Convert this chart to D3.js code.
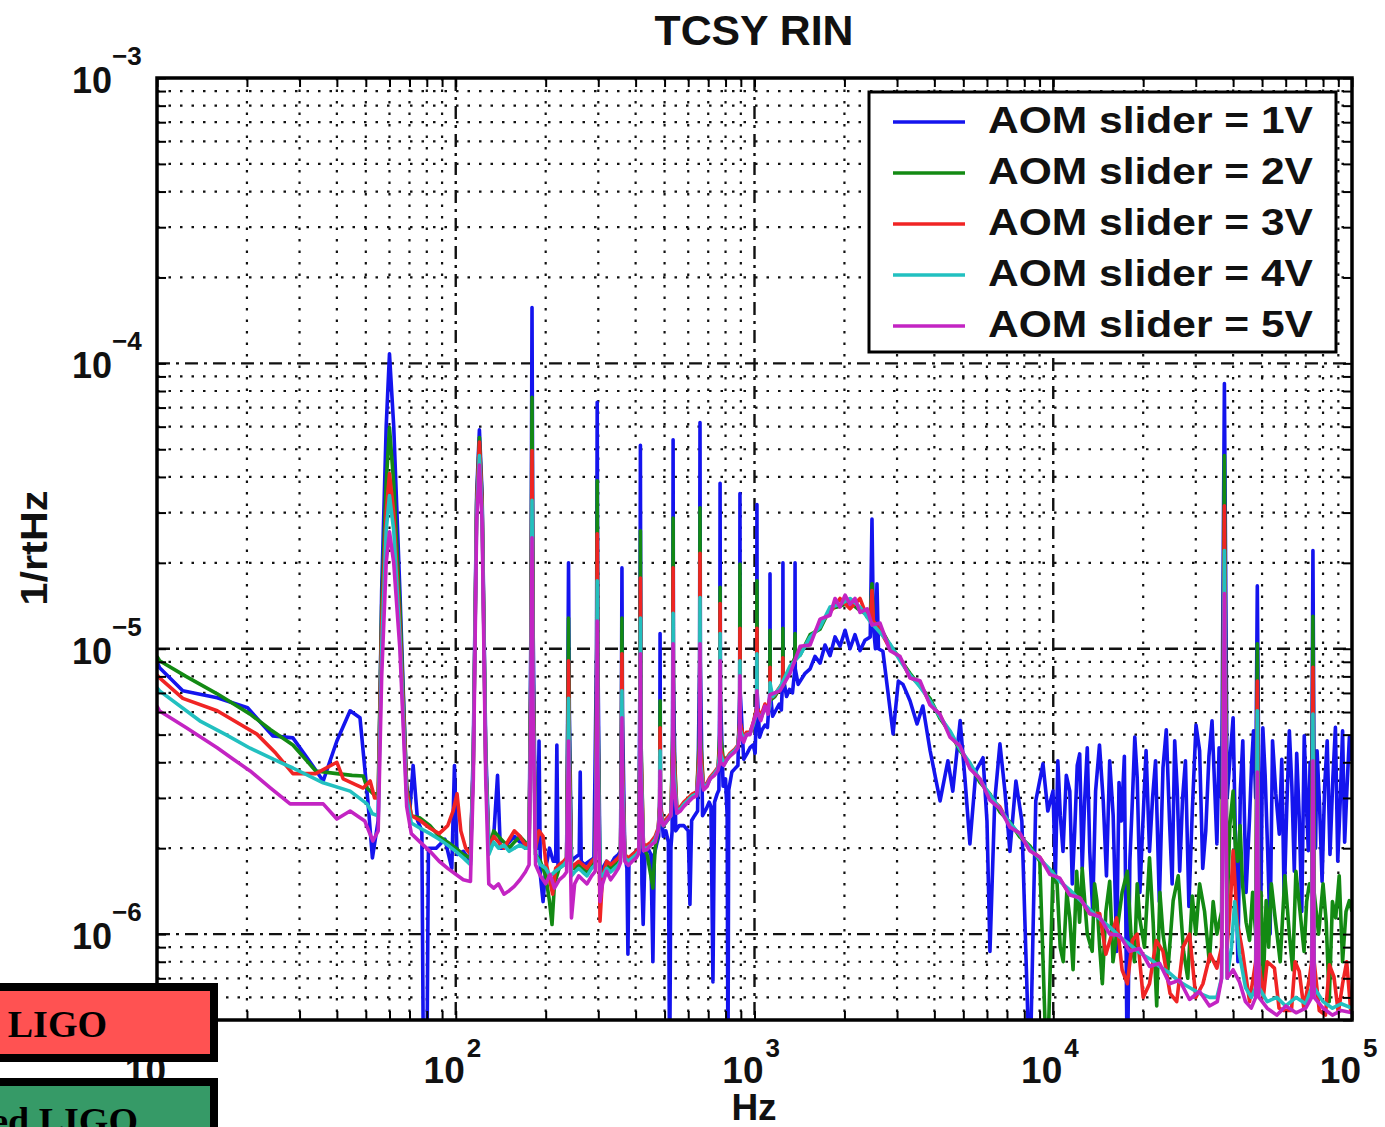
<!DOCTYPE html>
<html>
<head>
<meta charset="utf-8">
<script src="https://d3js.org/d3.v7.min.js"></script>
<style>
  html, body { margin: 0; background: #fff; }
  svg { display: block; }
</style>
</head>
<body>
<svg id="chart" width="1385" height="1127"></svg>
<script>
// values are [Hz, amplitude in units of 1e-6 /rtHz]
const UNIT = 1e-6;

const SERIES = ['AOM slider = 1V', 'AOM slider = 2V', 'AOM slider = 3V', 'AOM slider = 4V', 'AOM slider = 5V'];
const COLORS = ['#1414ee', '#138a13', '#f02424', '#22c0c0', '#c324c3'];

const X_TICKS = [10, 100, 1e3, 1e4, 1e5];
const X_EXP = ['1', '2', '3', '4', '5'];
const Y_TICKS = [1e-3, 1e-4, 1e-5, 1e-6];
const Y_EXP = ['\u22123', '\u22124', '\u22125', '\u22126'];

const blue = [
[10,9.0],[10.2,8.58],[12.2,7.12],[15.9,6.73],[20.1,6.21],[24.4,4.95],[28.5,4.87],[31.8,4.15],[36,3.44],[40,4.75],[44.3,6.06],[47.8,5.73],[50.8,2.93],[52.6,1.85],
[55,2.5],[56.5,16],[58.5,60],[60,108],[62,60],[65,16],[68.5,3.2],
[70,2.6],[72,3.9],[74.5,2.5],[77,2.3],[78,0.3],[80,0.3],[81,2.0],[86,2.0],[92,2.15],[97,1.7],[99,3.9],[101,1.9],[106,1.95],[112,1.8],
[114.5,4.5],[117.5,35],[120,58.5],[122.5,35],[126,4.5],[129,2.1],
[134,2.2],[138,3.6],[141,2.0],[145,2.0],[151,2.1],[157,2.2],[164,2.1],[171,2.0],[176,2.05],
[178.5,12],[180,157],[181.5,12],[185,2.0],
[188,2.0],[190,4.75],[192,1.6],[196,1.3],[200,1.7],[206,2.0],[212,1.8],[216,1.8],[218,4.6],[220,1.7],[226,1.75],[232,1.8],[235,1.85],
[237,6],[238.5,20],[240,6],[244,1.8],[250,1.85],[259,1.9],[261,3.7],[263,1.8],[270,1.75],[280,1.8],[290,1.85],
[296,10],[297.5,73],[299,10],[304,1.6],[310,1.7],[320,1.8],[330,1.75],[340,1.85],[350,1.9],[356,1.95],
[358.5,6],[360,19.2],[361.5,6],[368,1.9],[374,1.7],[377,0.85],[380,1.8],[390,1.9],[402,1.95],[410,2.0],
[413.5,8],[415,51.6],[416.5,8],[420,1.5],[424,1.08],[430,1.9],[440,2.0],[450,1.9],[457,0.8],[462,1.9],[472,2.1],[478,2.2],
[481.5,3],[483,11.3],[484.5,3],[495,2.2],[505,2.3],[515,2.1],[520,0.3],[525,2.0],[530,2.3],
[532.5,8],[534,54],[535.5,8],[545,2.3],[560,2.4],[580,2.4],[600,2.3],[608,1.27],[616,2.5],[630,2.6],[645,2.7],
[655,9],[657,62],[659,9],[670,2.6],[690,2.75],[705,2.9],[715,2.8],[726,0.68],[735,2.9],[750,3.1],[760,3.2],
[765,7],[767,38],[769,7],[785,3.3],[800,3.5],[810,2.6],[815,0.3],[820,3.2],[840,3.7],[860,3.8],[880,3.9],
[892,7],[894,35],[896,7],[920,4.1],[945,4.3],[966,4.5],[990,4.6],[1005,4.3],
[1017,7],[1019,32],[1021,7],[1040,4.9],[1060,5.2],[1084,5.4],[1105,5.3],
[1125,7],[1127,18.3],[1129,7],[1150,5.8],[1180,6.1],[1210,6.4],[1230,6.1],
[1243,8],[1245,20],[1247,8],[1280,6.8],[1310,7.2],[1340,7.0],
[1365,8.5],[1367,20],[1369,8.5],[1400,7.5],
[1477,8.2],[1535,8.5],[1594,9.4],[1657,8.9],[1722,10.3],[1790,9.45],[1860,11.0],[1933,10.2],[2010,11.6],[2088,10.0],[2170,11.2],[2255,9.84],[2343,10.7],
[2440,11],[2473,28.5],[2500,12],[2540,10],[2570,16.9],[2600,10],
[2690,9.8],[2910,5.03],[3030,7.7],[3140,7.5],[3315,6.57],[3500,5.45],[3660,6.3],[3870,4.4],[4180,2.93],[4440,4.05],[4610,3.17],[4880,5.6],[5070,3.44],[5260,2.07],[5510,3.73],[5820,4.15],[6000,2.49],[6140,0.87],[6370,2.93],[6630,4.64],[6890,3.17],[7160,1.95],[7500,3.44],[7850,2.49],[8350,0.3],[8740,2.93],[9240,3.95],[9590,2.7],
[9980,3.17],[10170,1.6],[10360,4.05],[10560,2.6],[10780,1.95],[11060,3.6],[11360,3.17],[11580,1.5],[11800,2.3],[12030,3.9],[12260,4.28],[12500,1.7],[12740,2.93],[13000,4.5],[13250,1.95],[13550,1.2],[13860,3.17],[14280,4.6],[14700,2.93],[15070,1.6],[15450,4.05],[15870,2.6],[16300,0.87],[16600,3.4],[16900,2.49],[17300,4.2],[17700,0.3],[18050,1.8],[18400,2.93],[18750,4.9],[19100,3.53],[19500,1.4],[19900,2.3],[20450,4.4],[21000,1.95],[21500,3.0],[22000,4.05],[22650,1.3],[23300,3.83],[23900,5.2],[24500,2.49],[25000,1.5],[25500,4.76],[26000,3.2],[26500,1.66],[27100,3.0],[27700,4.05],[28450,1.25],[29200,2.7],[30050,5.4],[30900,4.39],[31650,1.7],[32400,2.3],[33200,4.2],[34000,5.59],[34650,3.4],[35300,2.07],[35900,4.5],
[36600,3],[37400,85],[38200,3],
[39100,4.2],[40000,5.73],[40700,2.2],[41500,0.8],[42300,3.2],[43100,4.76],[44200,1.4],[45400,2.55],[46100,3.9],[46800,5.16],
[47600,3],[48200,16.6],[48800,3],
[49500,1.2],[50300,5.28],[51200,3.6],[52200,1.96],[53200,1.0],[54200,4.76],[55600,3.1],[57100,2.24],[58200,4.1],[59300,1.31],[60500,2.8],[61700,5.16],[62900,3.3],[64100,1.66],[65300,4.3],[66600,2.55],[67900,1.2],[69200,4.95],[70300,3.0],[71400,1.96],[72400,4.0],
[73300,3],[74000,22.1],[74700,3],
[75500,2.0],[76400,4.39],[77900,2.8],[79400,1.53],[81000,3.3],[82600,4.76],[84400,1.9],[86300,3.53],[88000,5.3],[89600,1.8],[91300,2.9],[93000,5.16],[94500,2.1],[96100,3.17],[98000,4.9],[100000,4.05]
];

const green = [
[10,9.4],[10.2,9.08],[12.5,8.0],[15.9,6.95],[20.5,5.9],[24,5.2],[28.5,4.6],[34,3.73],[40,3.65],[45,3.6],[49,3.58],[50.5,3.25],[53,3.1],
[55,3.1],[56.5,14],[58.5,38],[60,59.6],[62,38],[65,14],[68.5,3.3],[71,2.6],
[76,2.55],[82,2.4],[88,2.2],[94,2.1],[100,2.0],[106,1.9],[112,1.85],
[114.5,4],[117.5,33],[120,55],[122.5,33],[126,4],[129,2.0],
[134,2.3],[139,2.2],[145,2.1],[151,2.0],[157,2.1],[164,2.2],[171,2.1],[176,2.0],
[178.5,9],[180,76],[181.5,9],[185,1.9],
[192,1.8],[200,1.6],[206,1.3],[210,1.08],[214,1.5],[222,1.7],[230,1.75],[235,1.8],
[237,5],[238.5,12.8],[240,5],[244,1.7],[250,1.7],[258,1.75],[266,1.7],[275,1.65],[285,1.75],[293,1.8],
[296,7],[297.5,38.8],[299,7],[304,1.5],[310,1.6],[320,1.75],[330,1.7],[340,1.75],[350,1.8],[356,1.85],
[358.5,4],[360,12.8],[361.5,4],[368,1.85],[378,1.8],[390,1.85],[402,1.9],[410,1.95],
[413.5,5],[415,25.9],[416.5,5],[425,2.0],[437,1.9],[450,1.6],[457,1.45],[465,2.0],[476,2.3],
[481.5,2.8],[483,6.57],[484.5,2.8],[495,2.4],[510,2.5],[525,2.6],
[532.5,5],[534,28.7],[535.5,5],[550,2.7],[565,2.75],[580,2.85],[600,2.95],[620,3.05],[640,3.1],
[655,5],[657,31.2],[659,5],[675,3.25],[695,3.35],[710,3.5],[735,3.65],[755,3.8],
[765,5],[767,16.4],[769,5],[790,3.95],[810,4.1],[828,4.25],[860,4.4],[880,4.55],
[892,5.5],[894,19.8],[896,5.5],[920,4.8],[940,5.0],[966,5.05],[990,5.4],
[1017,6.2],[1019,17.3],[1021,6.2],[1050,5.7],[1084,6.3],[1110,6.0],
[1125,6.6],[1127,11.6],[1129,6.6],[1170,6.8],[1200,7.1],
[1243,7.4],[1245,11.8],[1247,7.4],[1300,8.3],
[1365,9.3],[1367,11.3],[1369,9.3],
[1421,9.5],[1535,11.2],[1657,11.7],[1790,13.8],[1933,14.1],[2088,14.5],[2255,13.6],
[2440,13],[2473,16.9],[2500,12.5],
[2631,11.9],[2842,10.3],[3070,9.2],[3315,8.2],[3581,7.4],[3867,6.7],[4176,5.7],[4510,5.1],[4871,4.4],[5261,3.95],[5682,3.4],[6136,3.1],[6627,2.68],[7157,2.47],[7729,2.19],[8348,2.04],[9015,1.8],[9530,0.3],
[9980,1.66],[10300,1.5],[10550,0.9],[10800,0.8],[11100,1.4],[11360,1.14],[11650,0.75],[11980,1.66],[12250,1.1],[12500,1.7],[13000,1.0],[13500,0.87],[13750,1.5],[14000,1.31],[14300,0.9],[14600,0.67],[15000,1.2],[15450,1.53],[15850,0.8],[16300,1.0],[17000,1.4],[17700,1.66],[18200,1.0],[18700,0.8],[19100,1.5],[19460,1.14],[20200,0.9],[21000,1.85],[21600,1.1],[22200,0.56],[22750,1.4],[23300,1.0],[24200,0.75],[25200,1.31],[26200,1.6],[27300,0.87],[28200,0.7],[29200,1.36],[30000,1.0],[30900,1.5],[32100,1.2],[33300,0.8],[34300,1.3],[35300,1.0],
[36600,1.2],[37400,47.5],[38200,1.2],
[39000,2.4],[40000,3.17],[40700,2.0],[41400,1.8],[42200,2.4],[43000,1.5],[44200,1.1],[45400,0.95],[46500,1.4],
[47600,1.0],[48200,10.4],[48800,1.0],
[49600,1.4],[50500,0.67],[51600,1.31],[52600,0.9],[53700,1.5],[55500,1.1],[57500,0.8],[59600,1.6],[61700,1.0],[63300,0.75],[64900,1.66],[67000,1.2],[69100,0.87],[70500,1.3],[72000,1.5],
[73300,1.4],[74000,13.0],[74700,1.4],
[77300,1.0],[80000,1.5],[82000,1.1],[83900,0.58],[86000,1.3],[88200,1.14],[90600,1.6],[93000,0.8],[95500,1.2],[98000,1.31],[100000,1.2]
];

const red = [
[10,8.1],[10.2,7.9],[12.2,6.7],[15.9,6.06],[21.6,5.02],[25,4.3],[28.5,3.65],[34,3.65],[40,4.0],[42,3.5],[46,3.35],[49,3.25],[51.7,3.44],[53.5,3.0],
[55,3.0],[56.5,12],[58.5,30],[60,41.1],[62,30],[65,12],[68.5,3.2],[71,2.6],
[76,2.5],[82,2.35],[88,2.25],[94,2.4],[98,2.7],[101,3.1],[104,2.3],[108,2.0],[112,1.9],
[114.5,4],[117.5,32],[120,53],[122.5,32],[126,4],[129,2.0],
[134,2.2],[139,2.1],[145,2.0],[151,2.15],[157,2.3],[164,2.2],[171,2.05],[176,2.1],
[178.5,8],[180,49.5],[181.5,8],[185,2.0],
[190,2.3],[196,2.2],[200,1.8],[205,1.6],[211,1.38],[216,1.7],[222,1.75],[230,1.8],[235,1.85],
[237,4],[238.5,9.08],[240,4],[244,1.7],[250,1.75],[258,1.8],[266,1.75],[275,1.7],[285,1.8],[293,1.85],
[296,6],[297.5,25.3],[299,6],[304,1.11],[310,1.6],[320,1.8],[330,1.75],[340,1.8],[350,1.85],[356,1.9],
[358.5,4],[360,9.6],[361.5,4],[368,1.9],[378,1.85],[390,1.9],[402,1.95],[410,2.0],
[413.5,4.5],[415,17.7],[416.5,4.5],[425,2.05],[437,2.05],[450,2.1],[465,2.2],[476,2.35],
[481.5,2.8],[483,5.28],[484.5,2.8],[495,2.45],[510,2.55],[525,2.65],
[532.5,4.5],[534,19.2],[535.5,4.5],[550,2.7],[565,2.8],[580,2.9],[600,3.0],[620,3.1],[640,3.15],
[655,4.5],[657,21.6],[659,4.5],[675,3.3],[695,3.4],[710,3.55],[735,3.7],[755,3.85],
[765,4.5],[767,14.4],[769,4.5],[790,4.0],[810,4.15],[828,4.3],[860,4.45],[880,4.6],
[892,5.5],[894,11.8],[896,5.5],[920,4.85],[940,5.1],[966,5.1],[990,5.5],
[1017,6.2],[1019,11.8],[1021,6.2],[1050,5.8],[1084,6.4],[1110,6.1],
[1125,6.7],[1127,8.6],[1129,6.7],[1170,6.9],[1200,7.2],
[1243,7.6],[1245,9.3],[1247,7.6],[1290,8.2],[1360,9.0],
[1421,9.84],[1535,10.7],[1657,12.3],[1790,13.4],[1933,15.0],[2088,13.8],[2255,15.0],[2382,12.9],
[2450,13],[2473,16.0],[2500,12.5],
[2631,11.6],[2842,10.0],[3070,9.3],[3315,7.95],[3581,7.55],[3867,6.45],[4176,5.85],[4510,5.0],[4871,4.5],[5261,3.85],[5682,3.5],[6136,3.0],[6627,2.79],[7157,2.4],[7729,2.24],[8348,1.97],[9015,1.86],[9736,1.65],[10515,1.56],[11356,1.38],[12264,1.34],[13245,1.18],[14304,1.18],
[15000,0.85],[16300,1.14],[17000,0.75],[17700,0.67],[18400,0.95],[19100,1.0],[20000,0.6],[21000,0.67],[22100,0.95],[23300,0.87],[24600,0.62],[25900,0.58],[27200,0.9],[28600,1.0],[30000,0.6],[31700,0.67],[33500,0.85],[35300,0.76],
[36600,0.9],[37400,31.7],[38200,0.9],
[39200,1.3],[40000,1.96],[41300,1.1],[43000,0.87],[45400,0.58],
[47600,0.8],[48200,7.7],[48800,0.8],
[50500,0.6],[52000,0.8],[55000,0.76],[57000,0.55],[59000,0.54],[62700,0.54],[64500,0.8],[66600,0.74],[69000,0.55],[72000,0.7],
[73300,0.8],[74000,8.6],[74700,0.8],
[77700,0.54],[81500,0.52],[84000,0.78],[87000,0.71],[90000,0.53],[93000,0.67],[96000,0.8],[99000,0.54],[100000,0.6]
];

const cyan = [
[10,7.3],[10.2,7.12],[13.9,5.59],[17,5.0],[20.5,4.48],[24.5,4.1],[28.5,3.82],[36,3.39],[44.3,3.17],[50.5,2.86],[52.6,2.64],
[55,2.6],[56.5,10],[58.5,26],[60,34.4],[62,26],[65,11],[68.5,3.0],[71,2.45],
[76,2.35],[82,2.25],[88,2.15],[94,2.05],[100,1.95],[106,1.85],[112,1.75],
[114.5,4],[117.5,30],[120,47.5],[122.5,30],[126,4],[129,1.9],
[134,2.1],[139,2.0],[145,2.05],[151,1.95],[157,2.0],[164,2.05],[171,2.0],[176,2.0],
[178.5,7],[180,33.1],[181.5,7],[185,1.9],
[192,1.75],[200,1.7],[207,1.6],[214,1.65],[222,1.7],[230,1.75],[235,1.8],
[237,3.5],[238.5,6.7],[240,3.5],[244,1.6],[250,1.65],[258,1.7],[266,1.65],[275,1.6],[285,1.7],[293,1.75],
[296,5],[297.5,17.3],[299,5],[304,1.6],[310,1.6],[320,1.7],[330,1.65],[340,1.7],[350,1.75],[356,1.8],
[358.5,3.5],[360,7.12],[361.5,3.5],[368,1.85],[378,1.8],[390,1.85],[402,1.9],[410,1.95],
[413.5,4],[415,12.8],[416.5,4],[425,2.0],[437,2.0],[450,2.05],[465,2.15],[476,2.3],
[481.5,2.7],[483,4.39],[484.5,2.7],[495,2.4],[510,2.5],[525,2.6],
[532.5,4],[534,13.3],[535.5,4],[550,2.65],[565,2.75],[580,2.85],[600,2.95],[620,3.05],[640,3.1],
[655,4],[657,15.1],[659,4],[675,3.25],[695,3.35],[710,3.5],[735,3.65],[755,3.8],
[765,4.3],[767,11.3],[769,4.3],[790,3.95],[810,4.1],[828,4.25],[860,4.4],[880,4.55],
[892,5.2],[894,9.08],[896,5.2],[920,4.8],[940,5.0],[966,5.05],[990,5.4],
[1017,6],[1019,9.6],[1021,6],[1050,5.7],[1084,6.2],[1110,6.0],[1125,6.3],[1127,7.6],[1150,6.8],
[1216,7.3],[1315,8.7],[1421,9.5],[1535,11.0],[1657,11.9],[1790,14.0],[1933,14.3],[2088,15.0],[2255,14.0],[2431,12.5],[2631,11.4],[2842,10.4],[3070,9.08],[3315,8.1],[3581,7.35],[3867,6.57],[4176,5.77],[4510,5.16],[4871,4.45],[5261,3.98],[5682,3.47],[6136,3.08],[6627,2.75],[7157,2.45],[7729,2.23],[8348,2.0],[9015,1.83],[9736,1.69],[10515,1.53],[11356,1.43],[12264,1.32],[13245,1.22],[14304,1.13],[15448,1.06],[16683,0.98],[18017,0.92],[19458,0.86],[21014,0.82],[22694,0.77],[24509,0.73],[26469,0.68],[28585,0.65],[30871,0.62],[33340,0.6],[35300,0.6],
[36600,0.7],[37400,22.1],[38200,0.7],
[39500,0.9],[40500,1.3],[42000,0.85],[44000,0.65],[46000,0.6],
[47600,0.65],[48200,6.06],[48800,0.65],
[52000,0.58],[56000,0.6],[60000,0.56],[65000,0.6],[70000,0.57],
[73300,0.65],[74000,5.9],[74700,0.65],
[80000,0.58],[86000,0.55],[92000,0.57],[100000,0.55]
];

const magenta = [
[10,6.3],[10.2,6.05],[12.5,5.3],[15.9,4.5],[18,4.1],[20.5,3.73],[24,3.25],[27.9,2.86],[32,2.86],[36,2.86],[40,2.53],[44.3,2.7],[49.6,2.49],[52.8,2.12],
[55,2.3],[56.5,8],[58.5,20],[60,25.7],[62,20],[65,10],[68.5,2.8],[71,2.25],
[76,2.1],[82,1.95],[88,1.8],[94,1.7],[100,1.62],[106,1.55],[112,1.53],
[114.5,3.5],[117.5,28],[120,44],[122.5,28],[126,3.5],[129,1.5],
[134,1.45],[139,1.5],[145,1.38],[151,1.42],[157,1.47],[164,1.55],[171,1.65],[176,1.75],
[178.5,6],[180,24.5],[181.5,6],[185,1.75],
[192,1.6],[200,1.5],[207,1.62],[214,1.45],[222,1.55],[230,1.6],[235,1.65],
[237,3],[238.5,4.75],[240,3],[244,1.14],[250,1.5],[258,1.6],[266,1.55],[275,1.5],[285,1.6],[293,1.66],
[296,4],[297.5,12.5],[299,4],[304,1.3],[310,1.5],[320,1.66],[330,1.55],[340,1.62],[350,1.7],[356,1.78],
[358.5,3],[360,5.73],[361.5,3],[368,1.8],[378,1.74],[390,1.8],[402,1.85],[410,1.92],
[413.5,3.5],[415,9.6],[416.5,3.5],[425,1.96],[437,1.98],[450,2.05],[465,2.1],[476,2.3],
[481.5,2.6],[483,3.73],[484.5,2.6],[495,2.4],[510,2.5],[525,2.6],
[532.5,3.5],[534,10.4],[535.5,3.5],[550,2.65],[565,2.7],[580,2.8],[600,2.9],[620,3.0],[640,3.05],
[655,3.8],[657,10.4],[659,3.8],[675,3.2],[695,3.3],[710,3.5],[735,3.6],[755,3.75],
[765,4.0],[767,9.08],[769,4.0],[790,3.9],[810,4.1],[828,4.2],[860,4.35],[880,4.5],
[892,5],[894,8.04],[896,5],[920,4.7],[940,5.0],[966,5.0],[990,5.5],
[1017,6],[1019,7.12],[1021,6],[1050,5.6],[1084,6.3],[1110,5.9],[1127,6.9],[1216,7.12],[1315,8.2],[1421,10.2],[1535,10.3],[1657,12.7],[1790,13.1],[1860,15.0],[1933,14.0],[2010,15.4],[2088,14.3],[2170,15.0],[2255,13.4],[2382,13.8],[2473,12.1],[2631,12.3],[2842,9.84],[3070,9.4],[3315,7.9],[3581,7.72],[3867,6.35],[4176,5.9],[4510,4.9],[4871,4.57],[5261,3.8],[5682,3.5],[6136,2.95],[6627,2.75],[7157,2.37],[7729,2.26],[8348,1.96],[9015,1.86],[9736,1.62],[10515,1.57],[11356,1.37],[12264,1.34],[13245,1.18],[14304,1.15],[15448,1.0],[16683,0.99],[18017,0.87],[19458,0.89],[21014,0.77],[22694,0.79],[24509,0.67],[26469,0.69],[28585,0.59],[30871,0.63],[33340,0.56],[35400,0.58],
[36600,0.7],[37400,15.6],[38200,0.7],
[40000,0.75],[42000,0.68],[44000,0.58],[46000,0.55],
[47600,0.6],[48200,3.7],[48800,0.6],
[52000,0.55],[56000,0.52],[60000,0.56],[65000,0.53],[70000,0.55],
[73300,0.6],[74000,4.05],[74700,0.6],
[80000,0.55],[86000,0.52],[92000,0.54],[100000,0.53]
];

const traces = [blue, green, red, cyan, magenta];

// ---- layout ----
const P = { l: 157, r: 1352, t: 78, b: 1020 };
const SANS = '"Liberation Sans", Arial, Helvetica, sans-serif';
const SERIF = '"Liberation Serif", "Times New Roman", serif';

const x = d3.scaleLog().domain([10, 1e5]).range([P.l, P.r]);
const y = d3.scaleLog().domain([5e-7, 1e-3]).range([P.b, P.t]);

const svg = d3.select('#chart');
svg.append('rect').attr('width', 1385).attr('height', 1127).attr('fill', '#fff');

svg.append('defs').append('clipPath').attr('id', 'plotclip')
  .append('rect').attr('x', P.l).attr('y', P.t).attr('width', P.r - P.l).attr('height', P.b - P.t);

// grid: dotted minor lines, dash-dot decade lines
const isDecade = v => Math.abs(Math.log10(v) - Math.round(Math.log10(v))) < 1e-9;
const xg = x.ticks().filter(v => v > 10 && v < 1e5);
const yg = y.ticks().filter(v => v > 5.01e-7 && v < 0.99e-3);
const grid = svg.append('g');
grid.selectAll('line.xg').data(xg).join('line').attr('class', 'xg')
  .attr('x1', d => x(d)).attr('x2', d => x(d)).attr('y1', P.t).attr('y2', P.b)
  .attr('stroke', '#111').attr('stroke-width', d => isDecade(d) ? 2.4 : 2.2)
  .attr('stroke-dasharray', d => isDecade(d) ? '13,6,3,6' : '2.5,9');
grid.selectAll('line.yg').data(yg).join('line').attr('class', 'yg')
  .attr('y1', d => y(d)).attr('y2', d => y(d)).attr('x1', P.l).attr('x2', P.r)
  .attr('stroke', '#111').attr('stroke-width', d => isDecade(d) ? 2.4 : 2.2)
  .attr('stroke-dasharray', d => isDecade(d) ? '13,6,3,6' : '2.5,9');

// traces (drawn 1V first, 5V last on top)
const line = d3.line().x(d => x(d[0])).y(d => y(d[1] * UNIT));
svg.append('g').attr('clip-path', 'url(#plotclip)')
  .selectAll('path').data(traces).join('path')
  .attr('d', line).attr('fill', 'none')
  .attr('stroke', (d, i) => COLORS[i]).attr('stroke-width', 3.6)
  .attr('stroke-linejoin', 'round');

// tick marks on all four sides
const noLab = () => '';
svg.append('g').attr('transform', `translate(0,${P.b})`)
  .call(d3.axisBottom(x).tickValues(x.ticks()).tickSize(-9).tickFormat(noLab));
svg.append('g').attr('transform', `translate(0,${P.t})`)
  .call(d3.axisTop(x).tickValues(x.ticks()).tickSize(-9).tickFormat(noLab));
svg.append('g').attr('transform', `translate(${P.l},0)`)
  .call(d3.axisLeft(y).tickValues(y.ticks()).tickSize(-9).tickFormat(noLab));
svg.append('g').attr('transform', `translate(${P.r},0)`)
  .call(d3.axisRight(y).tickValues(y.ticks()).tickSize(-9).tickFormat(noLab));
svg.selectAll('.tick line').attr('stroke', '#000').attr('stroke-width', 2);
svg.selectAll('.domain').remove();

// frame
svg.append('rect').attr('x', P.l).attr('y', P.t).attr('width', P.r - P.l).attr('height', P.b - P.t)
  .attr('fill', 'none').attr('stroke', '#000').attr('stroke-width', 3.5);

// tick labels: 10 with superscript exponent
const tl = svg.append('g').attr('font-family', SANS).attr('font-weight', 'bold').attr('fill', '#111');
X_TICKS.forEach((v, i) => {
  tl.append('text').attr('x', x(v) + 9).attr('y', 1083).attr('text-anchor', 'end')
    .attr('font-size', 37).text('10');
  tl.append('text').attr('x', x(v) + 11).attr('y', 1057).attr('font-size', 26).text(X_EXP[i]);
});
Y_TICKS.forEach((v, i) => {
  tl.append('text').attr('x', 112).attr('y', y(v) + 15).attr('text-anchor', 'end')
    .attr('font-size', 36).text('10');
  tl.append('text').attr('x', 112).attr('y', y(v) - 13).attr('font-size', 26).text(Y_EXP[i]);
});

// title and axis labels
svg.append('text').attr('x', 754).attr('y', 45).attr('text-anchor', 'middle')
  .attr('font-family', SANS).attr('font-weight', 'bold').attr('font-size', 43)
  .attr('textLength', 199).attr('lengthAdjust', 'spacingAndGlyphs').attr('fill', '#111').text('TCSY RIN');
svg.append('text').attr('x', 754).attr('y', 1120).attr('text-anchor', 'middle')
  .attr('font-family', SANS).attr('font-weight', 'bold').attr('font-size', 37).attr('fill', '#111').text('Hz');
svg.append('text').attr('transform', 'translate(47,548) rotate(-90)').attr('text-anchor', 'middle')
  .attr('font-family', SANS).attr('font-weight', 'bold').attr('font-size', 37)
  .attr('textLength', 115).attr('lengthAdjust', 'spacingAndGlyphs').attr('fill', '#111').text('1/rtHz');

// legend
const lg = svg.append('g');
lg.append('rect').attr('x', 869).attr('y', 92).attr('width', 467).attr('height', 260)
  .attr('fill', '#fff').attr('stroke', '#000').attr('stroke-width', 3);
SERIES.forEach((name, i) => {
  const ly = 122 + i * 51;
  lg.append('line').attr('x1', 893).attr('x2', 965).attr('y1', ly).attr('y2', ly)
    .attr('stroke', COLORS[i]).attr('stroke-width', 3.6);
  lg.append('text').attr('x', 988).attr('y', ly + 11)
    .attr('font-family', SANS).attr('font-weight', 'bold').attr('font-size', 37)
    .attr('textLength', 325).attr('lengthAdjust', 'spacingAndGlyphs').attr('fill', '#111').text(name);
});

// slide overlay boxes at lower left (cut by the picture edge, as in the source)
const ov = svg.append('g');
ov.append('rect').attr('x', -20).attr('y', 987).attr('width', 234).attr('height', 71)
  .attr('fill', '#ff5252').attr('stroke', '#000').attr('stroke-width', 8);
ov.append('text').attr('x', 107).attr('y', 1037).attr('text-anchor', 'end')
  .attr('font-family', SERIF).attr('font-weight', 'bold').attr('font-size', 38).attr('fill', '#000')
  .text('Initial LIGO');
ov.append('rect').attr('x', -20).attr('y', 1082).attr('width', 234).attr('height', 80)
  .attr('fill', '#369a67').attr('stroke', '#000').attr('stroke-width', 8);
ov.append('text').attr('x', 138).attr('y', 1134).attr('text-anchor', 'end')
  .attr('font-family', SERIF).attr('font-weight', 'bold').attr('font-size', 38).attr('fill', '#000')
  .text('Enhanced LIGO');
</script>
</body>
</html>
